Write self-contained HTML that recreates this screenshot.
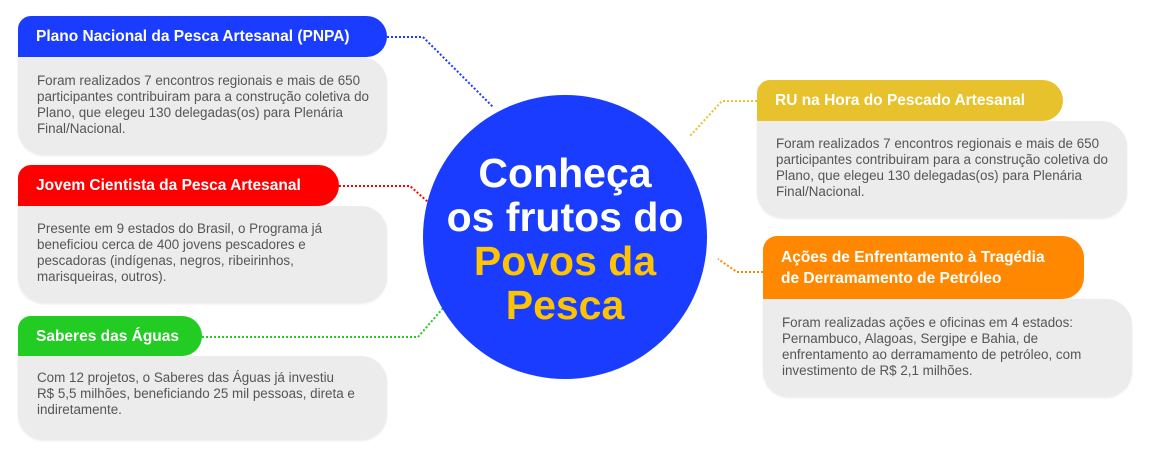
<!DOCTYPE html><html><head><style>
body{margin:0;width:1150px;height:464px;background:#fff;font-family:"Liberation Sans",sans-serif;position:relative;overflow:hidden}
.h{position:absolute;color:#fff;font-weight:bold;font-size:15.5px;box-sizing:border-box;padding-left:18px;display:flex;align-items:center;border-radius:14px 22px 22px 0;line-height:21px}
.b{position:absolute;background:#ececec;border-radius:0 26px 26px 26px;box-sizing:border-box;padding:12px 12px 0 19px;color:#555;font-size:13.4px;line-height:16px;box-shadow:0 1px 2px rgba(0,0,0,.08)}
.c{position:absolute;left:423px;top:95px;width:284px;height:284px;border-radius:50%;background:#1a3cff;text-align:center;font-weight:bold;font-size:41px;line-height:44px;color:#fff;box-sizing:border-box;padding-top:56px}
</style></head><body>
<svg width="1150" height="464" style="position:absolute;left:0;top:0" fill="none" stroke-width="2" stroke-dasharray="2 2">
<polyline points="387,37 423,37 493,107" stroke="#1a3cff"/>
<polyline points="339,186 410,186 428,202" stroke="#ff0000"/>
<polyline points="202,337 418,337 444,307" stroke="#22cc22"/>
<polyline points="757,101 722,101 690,136" stroke="#e8c22c"/>
<polyline points="763,272 737,272 718,259" stroke="#ff8800"/>
</svg>
<div class="b" style="left:18px;top:57px;width:369px;height:98px;padding-top:16px">Foram realizados 7 encontros regionais e mais de 650 participantes contribuiram para a construção coletiva do Plano, que elegeu 130 delegadas(os) para Plenária Final/Nacional.</div>
<div class="h" style="left:18px;top:16px;width:369px;height:41px;background:#1a3cff">Plano Nacional da Pesca Artesanal (PNPA)</div>
<div class="b" style="left:18px;top:206px;width:369px;height:97px;padding-top:15px">Presente em 9 estados do Brasil, o Programa já beneficiou cerca de 400 jovens pescadores e pescadoras (indígenas, negros, ribeirinhos, marisqueiras, outros).</div>
<div class="h" style="left:18px;top:165px;width:321px;height:41px;background:#ff0000">Jovem Cientista da Pesca Artesanal</div>
<div class="b" style="left:18px;top:356px;width:369px;height:84px;padding-top:14px">Com 12 projetos, o Saberes das Águas já investiu<br>R$&nbsp;5,5 milhões, beneficiando 25 mil pessoas, direta e indiretamente.</div>
<div class="h" style="left:18px;top:316px;width:184px;height:40px;background:#22cc22">Saberes das Águas</div>
<div class="b" style="left:757px;top:121px;width:370px;height:97px;padding-top:15px">Foram realizados 7 encontros regionais e mais de 650 participantes contribuiram para a construção coletiva do Plano, que elegeu 130 delegadas(os) para Plenária Final/Nacional.</div>
<div class="h" style="left:757px;top:80px;width:306px;height:41px;background:#e8c22c">RU na Hora do Pescado Artesanal</div>
<div class="b" style="left:763px;top:299px;width:369px;height:98px;padding-top:16px">Foram realizadas ações e oficinas em 4 estados: Pernambuco, Alagoas, Sergipe e Bahia, de enfrentamento ao derramamento de petróleo, com investimento de R$ 2,1 milhões.</div>
<div class="h" style="left:763px;top:236px;width:321px;height:63px;background:#ff8800">Ações de Enfrentamento à Tragédia<br>de Derramamento de Petróleo</div>
<div class="c">Conheça<br>os frutos do<br><span style="color:#ffc400">Povos da<br>Pesca</span></div>
</body></html>
